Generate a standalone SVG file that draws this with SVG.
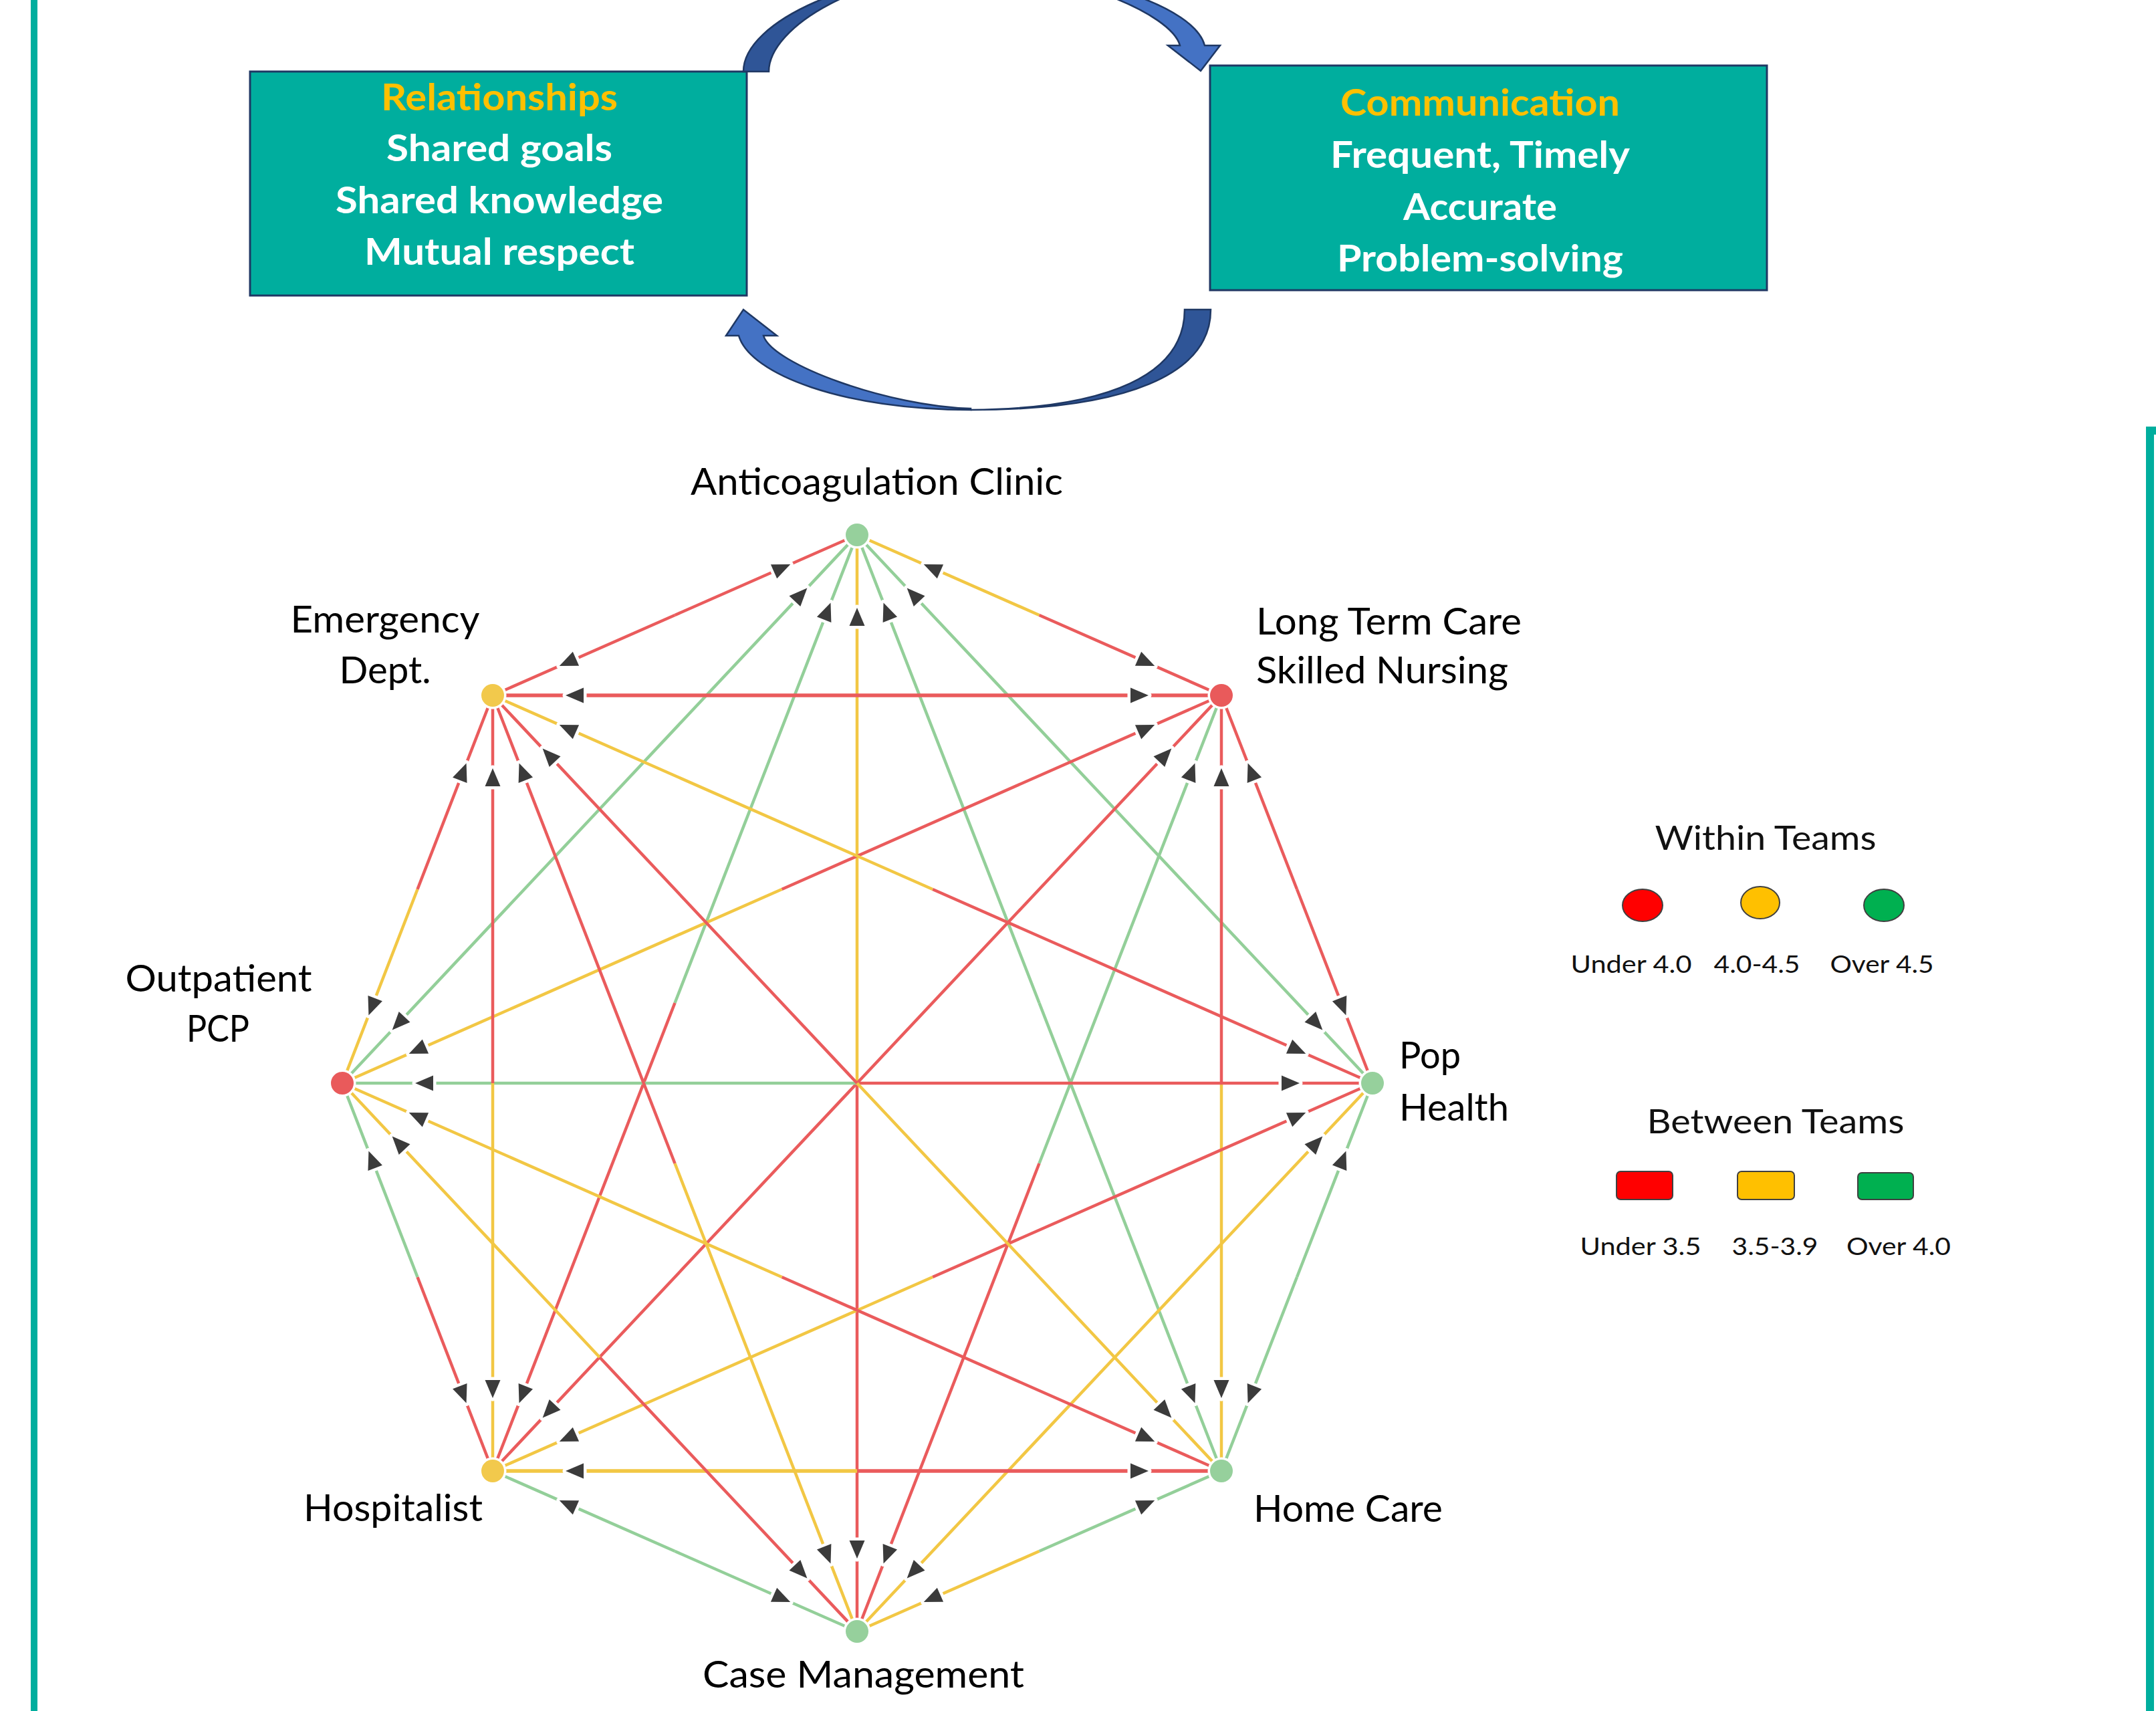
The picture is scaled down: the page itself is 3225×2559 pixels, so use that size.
<svg xmlns="http://www.w3.org/2000/svg" xmlns:xlink="http://www.w3.org/1999/xlink" width="3225" height="2559" viewBox="0 0 3225 2559">
<style>
.bar{fill:#00AE9E}
.box{fill:#00AE9E;stroke:#1F3864;stroke-width:3}
.bt{font-family:Lato,"Open Sans","Liberation Sans",sans-serif;font-weight:700;font-size:55px;text-anchor:middle;fill:#FFFFFF}
.hd{fill:#FFC000}
.cv{stroke:#1F3864;stroke-width:2.5;stroke-linejoin:miter}
.dk{fill:#2F5597}
.lt{fill:#4472C4}
.ln{fill:none;stroke-width:4.5}
.w{stroke-width:5.5}
.r{stroke:#EA5B5C}
.y{stroke:#F2C744}
.g{stroke:#93CF99}
.mk{fill:none;stroke:none;marker-start:url(#ah)}
.nd{stroke:#FFFFFF;stroke-width:7;paint-order:stroke}
.nr{fill:#E95A5B}
.ny{fill:#F2C94C}
.ng{fill:#96D09C}
.lb{font-family:Lato,"Open Sans","Liberation Sans",sans-serif;font-size:56px;fill:#000000}
.mid{text-anchor:middle}
.lg{font-family:Lato,"Open Sans","Liberation Sans",sans-serif;font-size:37px;text-anchor:middle;fill:#111111}
.lgt{font-size:50px}
.sw{stroke:#404040;stroke-width:2}
</style>
<defs>
<marker id="ah" markerUnits="userSpaceOnUse" orient="auto" viewBox="-160 -160 320 320" markerWidth="320" markerHeight="320" refX="0" refY="0">
<path d="M109,0 L136,-11.5 L136,11.5 Z" fill="#3B3B3B" stroke="#FFFFFF" stroke-width="9" stroke-linejoin="round" paint-order="stroke"/>
</marker>
<path id="hAL" d="M1282,800 L1554.5,920"/>
<path id="hLA" d="M1827,1040 L1554.5,920"/>
<path id="hAP" d="M1282,800 L1667.5,1210"/>
<path id="hPA" d="M2053,1620 L1667.5,1210"/>
<path id="hAH" d="M1282,800 L1554.5,1500"/>
<path id="hHA" d="M1827,2200 L1554.5,1500"/>
<path id="hAC" d="M1282,800 L1282,1620"/>
<path id="hCA" d="M1282,2440 L1282,1620"/>
<path id="hAS" d="M1282,800 L1009.5,1500"/>
<path id="hSA" d="M737,2200 L1009.5,1500"/>
<path id="hAO" d="M1282,800 L897,1210"/>
<path id="hOA" d="M512,1620 L897,1210"/>
<path id="hAE" d="M1282,800 L1009.5,920"/>
<path id="hEA" d="M737,1040 L1009.5,920"/>
<path id="hLP" d="M1827,1040 L1940,1330"/>
<path id="hPL" d="M2053,1620 L1940,1330"/>
<path id="hLH" d="M1827,1040 L1827,1620"/>
<path id="hHL" d="M1827,2200 L1827,1620"/>
<path id="hLC" d="M1827,1040 L1554.5,1740"/>
<path id="hCL" d="M1282,2440 L1554.5,1740"/>
<path id="hLS" d="M1827,1040 L1282,1620"/>
<path id="hSL" d="M737,2200 L1282,1620"/>
<path id="hLO" d="M1827,1040 L1169.5,1330"/>
<path id="hOL" d="M512,1620 L1169.5,1330"/>
<path id="hLE" d="M1827,1040 L1282,1040"/>
<path id="hEL" d="M737,1040 L1282,1040"/>
<path id="hPH" d="M2053,1620 L1940,1910"/>
<path id="hHP" d="M1827,2200 L1940,1910"/>
<path id="hPC" d="M2053,1620 L1667.5,2030"/>
<path id="hCP" d="M1282,2440 L1667.5,2030"/>
<path id="hPS" d="M2053,1620 L1395,1910"/>
<path id="hSP" d="M737,2200 L1395,1910"/>
<path id="hPO" d="M2053,1620 L1282.5,1620"/>
<path id="hOP" d="M512,1620 L1282.5,1620"/>
<path id="hPE" d="M2053,1620 L1395,1330"/>
<path id="hEP" d="M737,1040 L1395,1330"/>
<path id="hHC" d="M1827,2200 L1554.5,2320"/>
<path id="hCH" d="M1282,2440 L1554.5,2320"/>
<path id="hHS" d="M1827,2200 L1282,2200"/>
<path id="hSH" d="M737,2200 L1282,2200"/>
<path id="hHO" d="M1827,2200 L1169.5,1910"/>
<path id="hOH" d="M512,1620 L1169.5,1910"/>
<path id="hHE" d="M1827,2200 L1282,1620"/>
<path id="hEH" d="M737,1040 L1282,1620"/>
<path id="hCS" d="M1282,2440 L1009.5,2320"/>
<path id="hSC" d="M737,2200 L1009.5,2320"/>
<path id="hCO" d="M1282,2440 L897,2030"/>
<path id="hOC" d="M512,1620 L897,2030"/>
<path id="hCE" d="M1282,2440 L1009.5,1740"/>
<path id="hEC" d="M737,1040 L1009.5,1740"/>
<path id="hSO" d="M737,2200 L624.5,1910"/>
<path id="hOS" d="M512,1620 L624.5,1910"/>
<path id="hSE" d="M737,2200 L737,1620"/>
<path id="hES" d="M737,1040 L737,1620"/>
<path id="hOE" d="M512,1620 L624.5,1330"/>
<path id="hEO" d="M737,1040 L624.5,1330"/>
</defs>
<rect x="0" y="0" width="3225" height="2559" fill="#FFFFFF"/>
<g id="frame">
<rect class="bar" x="46" y="0" width="10" height="2559"/>
<rect class="bar" x="3210" y="638" width="12" height="1921"/>
<rect class="bar" x="3210" y="638" width="15" height="12"/>
</g>
<g id="cycle">
<g id="box-relationships">
<rect class="box" x="374" y="107" width="743" height="335"/>
<text class="bt hd" x="747" y="165" textLength="354" lengthAdjust="spacingAndGlyphs">Relationships</text>
<text class="bt" x="747" y="241" textLength="338" lengthAdjust="spacingAndGlyphs">Shared goals</text>
<text class="bt" x="747" y="319" textLength="490" lengthAdjust="spacingAndGlyphs">Shared knowledge</text>
<text class="bt" x="747" y="396" textLength="404" lengthAdjust="spacingAndGlyphs">Mutual respect</text>
</g>
<g id="box-communication">
<rect class="box" x="1810" y="98" width="833" height="336"/>
<text class="bt hd" x="2214" y="173" textLength="418" lengthAdjust="spacingAndGlyphs">Communication</text>
<text class="bt" x="2214" y="251" textLength="448" lengthAdjust="spacingAndGlyphs">Frequent, Timely</text>
<text class="bt" x="2214" y="329" textLength="230" lengthAdjust="spacingAndGlyphs">Accurate</text>
<text class="bt" x="2214" y="406" textLength="428" lengthAdjust="spacingAndGlyphs">Problem-solving</text>
</g>
<g id="arc-top">
<path class="cv dk" d="M1112,107 C1112,31 1284,-44 1457,-44 C1290,-44 1150,40 1150,107 Z"/>
<path class="cv lt" d="M1457,-44 C1630,-44 1787,10 1802,68 L1825,68 L1796,106 L1747,68 L1765,68 C1752,20 1600,-43 1457,-44 Z"/>
</g>
<g id="arc-bottom">
<path class="cv dk" d="M1811,463 C1811,560 1685,613 1452,613 C1660,611 1772,560 1772,463 Z"/>
<path class="cv lt" d="M1452,613 C1262,613 1122,560 1105,502 L1086,502 L1112,463 L1162,502 L1142,502 C1155,545 1330,608 1452,611 Z"/>
</g>
</g>
<g id="connectors">
<g id="edge-lines">
<use xlink:href="#hAL" class="ln y"/><use xlink:href="#hLA" class="ln r"/>
<use xlink:href="#hAP" class="ln g"/><use xlink:href="#hPA" class="ln g"/>
<use xlink:href="#hAH" class="ln g"/><use xlink:href="#hHA" class="ln g"/>
<use xlink:href="#hAC" class="ln y"/><use xlink:href="#hCA" class="ln r"/>
<use xlink:href="#hAS" class="ln g"/><use xlink:href="#hSA" class="ln r"/>
<use xlink:href="#hAO" class="ln g"/><use xlink:href="#hOA" class="ln g"/>
<use xlink:href="#hAE" class="ln r"/><use xlink:href="#hEA" class="ln r"/>
<use xlink:href="#hLP" class="ln r"/><use xlink:href="#hPL" class="ln r"/>
<use xlink:href="#hLH" class="ln r"/><use xlink:href="#hHL" class="ln y"/>
<use xlink:href="#hLC" class="ln g"/><use xlink:href="#hCL" class="ln r"/>
<use xlink:href="#hLS" class="ln r"/><use xlink:href="#hSL" class="ln r"/>
<use xlink:href="#hLO" class="ln r"/><use xlink:href="#hOL" class="ln y"/>
<use xlink:href="#hLE" class="ln r w"/><use xlink:href="#hEL" class="ln r w"/>
<use xlink:href="#hPH" class="ln g"/><use xlink:href="#hHP" class="ln g"/>
<use xlink:href="#hPC" class="ln y"/><use xlink:href="#hCP" class="ln y"/>
<use xlink:href="#hPS" class="ln r"/><use xlink:href="#hSP" class="ln y"/>
<use xlink:href="#hPO" class="ln r"/><use xlink:href="#hOP" class="ln g"/>
<use xlink:href="#hPE" class="ln r"/><use xlink:href="#hEP" class="ln y"/>
<use xlink:href="#hHC" class="ln g"/><use xlink:href="#hCH" class="ln y"/>
<use xlink:href="#hHS" class="ln r w"/><use xlink:href="#hSH" class="ln y w"/>
<use xlink:href="#hHO" class="ln r"/><use xlink:href="#hOH" class="ln y"/>
<use xlink:href="#hHE" class="ln y"/><use xlink:href="#hEH" class="ln r"/>
<use xlink:href="#hCS" class="ln g"/><use xlink:href="#hSC" class="ln g"/>
<use xlink:href="#hCO" class="ln r"/><use xlink:href="#hOC" class="ln y"/>
<use xlink:href="#hCE" class="ln y"/><use xlink:href="#hEC" class="ln r"/>
<use xlink:href="#hSO" class="ln r"/><use xlink:href="#hOS" class="ln g"/>
<use xlink:href="#hSE" class="ln y"/><use xlink:href="#hES" class="ln r"/>
<use xlink:href="#hOE" class="ln y"/><use xlink:href="#hEO" class="ln r"/>
</g>
<g id="edge-arrows">
<use xlink:href="#hAL" class="mk"/><use xlink:href="#hLA" class="mk"/>
<use xlink:href="#hAP" class="mk"/><use xlink:href="#hPA" class="mk"/>
<use xlink:href="#hAH" class="mk"/><use xlink:href="#hHA" class="mk"/>
<use xlink:href="#hAC" class="mk"/><use xlink:href="#hCA" class="mk"/>
<use xlink:href="#hAS" class="mk"/><use xlink:href="#hSA" class="mk"/>
<use xlink:href="#hAO" class="mk"/><use xlink:href="#hOA" class="mk"/>
<use xlink:href="#hAE" class="mk"/><use xlink:href="#hEA" class="mk"/>
<use xlink:href="#hLP" class="mk"/><use xlink:href="#hPL" class="mk"/>
<use xlink:href="#hLH" class="mk"/><use xlink:href="#hHL" class="mk"/>
<use xlink:href="#hLC" class="mk"/><use xlink:href="#hCL" class="mk"/>
<use xlink:href="#hLS" class="mk"/><use xlink:href="#hSL" class="mk"/>
<use xlink:href="#hLO" class="mk"/><use xlink:href="#hOL" class="mk"/>
<use xlink:href="#hLE" class="mk"/><use xlink:href="#hEL" class="mk"/>
<use xlink:href="#hPH" class="mk"/><use xlink:href="#hHP" class="mk"/>
<use xlink:href="#hPC" class="mk"/><use xlink:href="#hCP" class="mk"/>
<use xlink:href="#hPS" class="mk"/><use xlink:href="#hSP" class="mk"/>
<use xlink:href="#hPO" class="mk"/><use xlink:href="#hOP" class="mk"/>
<use xlink:href="#hPE" class="mk"/><use xlink:href="#hEP" class="mk"/>
<use xlink:href="#hHC" class="mk"/><use xlink:href="#hCH" class="mk"/>
<use xlink:href="#hHS" class="mk"/><use xlink:href="#hSH" class="mk"/>
<use xlink:href="#hHO" class="mk"/><use xlink:href="#hOH" class="mk"/>
<use xlink:href="#hHE" class="mk"/><use xlink:href="#hEH" class="mk"/>
<use xlink:href="#hCS" class="mk"/><use xlink:href="#hSC" class="mk"/>
<use xlink:href="#hCO" class="mk"/><use xlink:href="#hOC" class="mk"/>
<use xlink:href="#hCE" class="mk"/><use xlink:href="#hEC" class="mk"/>
<use xlink:href="#hSO" class="mk"/><use xlink:href="#hOS" class="mk"/>
<use xlink:href="#hSE" class="mk"/><use xlink:href="#hES" class="mk"/>
<use xlink:href="#hOE" class="mk"/><use xlink:href="#hEO" class="mk"/>
</g>
</g>
<g id="node-anticoagulation">
<circle class="nd ng" cx="1282" cy="800" r="17"/>
<text class="lb" x="1033" y="740" textLength="557" lengthAdjust="spacingAndGlyphs">Anticoagulation Clinic</text>
</g>
<g id="node-emergency">
<circle class="nd ny" cx="737" cy="1040" r="17"/>
<text class="lb mid" x="576" y="946" textLength="283" lengthAdjust="spacingAndGlyphs">Emergency</text>
<text class="lb mid" x="576" y="1022" textLength="137" lengthAdjust="spacingAndGlyphs">Dept.</text>
</g>
<g id="node-longtermcare">
<circle class="nd nr" cx="1827" cy="1040" r="17"/>
<text class="lb" x="1879" y="949" textLength="397" lengthAdjust="spacingAndGlyphs">Long Term Care</text>
<text class="lb" x="1879" y="1022" textLength="377" lengthAdjust="spacingAndGlyphs">Skilled Nursing</text>
</g>
<g id="node-outpatient">
<circle class="nd nr" cx="512" cy="1620" r="17"/>
<text class="lb mid" x="327" y="1483" textLength="279" lengthAdjust="spacingAndGlyphs">Outpatient</text>
<text class="lb mid" x="326" y="1558" textLength="94" lengthAdjust="spacingAndGlyphs">PCP</text>
</g>
<g id="node-pophealth">
<circle class="nd ng" cx="2053" cy="1620" r="17"/>
<text class="lb" x="2093" y="1598" textLength="92" lengthAdjust="spacingAndGlyphs">Pop</text>
<text class="lb" x="2093" y="1676" textLength="164" lengthAdjust="spacingAndGlyphs">Health</text>
</g>
<g id="node-hospitalist">
<circle class="nd ny" cx="737" cy="2200" r="17"/>
<text class="lb" x="454" y="2275" textLength="268" lengthAdjust="spacingAndGlyphs">Hospitalist</text>
</g>
<g id="node-homecare">
<circle class="nd ng" cx="1827" cy="2200" r="17"/>
<text class="lb" x="1875" y="2276" textLength="283" lengthAdjust="spacingAndGlyphs">Home Care</text>
</g>
<g id="node-casemanagement">
<circle class="nd ng" cx="1282" cy="2440" r="17"/>
<text class="lb" x="1051" y="2524" textLength="481" lengthAdjust="spacingAndGlyphs">Case Management</text>
</g>
<g id="legend">
<text class="lg lgt" x="2641" y="1271" textLength="331" lengthAdjust="spacingAndGlyphs">Within Teams</text>
<ellipse class="sw" cx="2457" cy="1354" rx="30" ry="24" fill="#FF0000"/>
<ellipse class="sw" cx="2633" cy="1350" rx="29" ry="24" fill="#FFC000"/>
<ellipse class="sw" cx="2818" cy="1354" rx="30" ry="24" fill="#00B050"/>
<text class="lg" x="2440" y="1455" textLength="181" lengthAdjust="spacingAndGlyphs">Under 4.0</text>
<text class="lg" x="2628" y="1455" textLength="129" lengthAdjust="spacingAndGlyphs">4.0-4.5</text>
<text class="lg" x="2815" y="1455" textLength="155" lengthAdjust="spacingAndGlyphs">Over 4.5</text>
<text class="lg lgt" x="2656" y="1695" textLength="385" lengthAdjust="spacingAndGlyphs">Between Teams</text>
<rect class="sw" x="2418" y="1752" width="84" height="42" rx="6" fill="#FF0000"/>
<rect class="sw" x="2599" y="1752" width="85" height="42" rx="6" fill="#FFC000"/>
<rect class="sw" x="2779" y="1754" width="83" height="40" rx="6" fill="#00B050"/>
<text class="lg" x="2454" y="1877" textLength="181" lengthAdjust="spacingAndGlyphs">Under 3.5</text>
<text class="lg" x="2655" y="1877" textLength="129" lengthAdjust="spacingAndGlyphs">3.5-3.9</text>
<text class="lg" x="2840" y="1877" textLength="156" lengthAdjust="spacingAndGlyphs">Over 4.0</text>
</g>
</svg>
